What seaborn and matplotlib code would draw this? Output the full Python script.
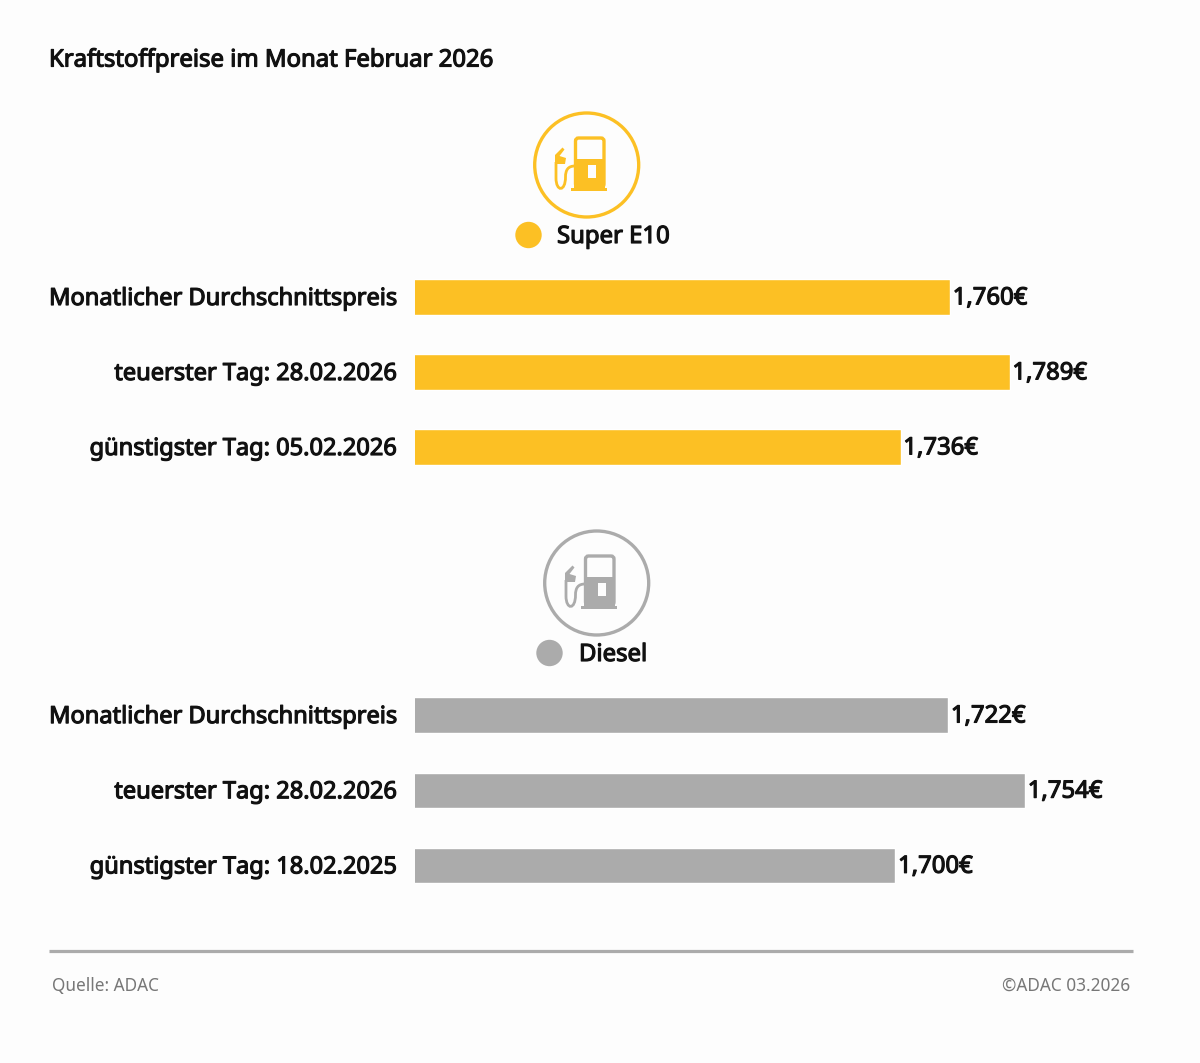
import matplotlib
matplotlib.use("Agg")
import matplotlib.patheffects as pe
import matplotlib.pyplot as plt
import pandas as pd
import seaborn as sns
from matplotlib.patches import Circle, Polygon, Rectangle, FancyBboxPatch
from matplotlib.path import Path
from matplotlib.patches import PathPatch
from matplotlib.transforms import ScaledTranslation

# data
labels_e10 = ["Monatlicher Durchschnittspreis", "teuerster Tag: 28.02.2026", "günstigster Tag: 05.02.2026"]
prices_e10 = [1.760, 1.789, 1.736]
labels_diesel = ["Monatlicher Durchschnittspreis", "teuerster Tag: 28.02.2026", "günstigster Tag: 18.02.2025"]
prices_diesel = [1.722, 1.754, 1.700]

YELLOW = "#FCC024"
GREY = "#ABABAB"
BG = "#FDFDFD"
DARK = "#111111"
W, H = 1200, 1063

sns.set_theme(style="white")
plt.rcParams["font.family"] = ["Noto Sans", "DejaVu Sans"]

fig = plt.figure(figsize=(W / 100, H / 100), dpi=100, facecolor=BG)

# the regular cut is the only one that resolves, so thicken it with a stroke
HEAVY = [pe.withStroke(linewidth=0.85, foreground=DARK)]


def make_axes(left, top, right, bottom):
    return fig.add_axes([left / W, 1 - bottom / H, (right - left) / W, (bottom - top) / H])


def bar_panel(ax, labels, prices, color, xmax):
    df = pd.DataFrame({"label": labels, "price": prices})
    sns.barplot(data=df, x="price", y="label", color=color, width=0.47, saturation=1, ax=ax)
    ax.set_xlim(1.5, xmax)
    ax.set_xlabel("")
    ax.set_ylabel("")
    ax.set_xticks([])
    ax.patch.set_alpha(0)
    sns.despine(ax=ax, left=True, bottom=True)
    ax.tick_params(axis="y", length=0, pad=13)
    nudge = ScaledTranslation(0, 1 / 100, fig.dpi_scale_trans)
    for t in ax.get_yticklabels():
        t.set_fontsize(17.0)
        t.set_color(DARK)
        t.set_path_effects(HEAVY)
        t.set_transform(t.get_transform() + nudge)
    vals = ax.bar_label(
        ax.containers[0],
        labels=[f"{p:.3f}€".replace(".", ",") for p in prices],
        padding=2,
        fontsize=17.2,
        color=DARK,
    )
    for t in vals:
        t.xyann = (2, -1)
        t.set_path_effects(HEAVY)
        t.set_clip_on(False)


# both panels start at 1.50 but use their own scale, as in the original
ax_e10 = make_axes(415, 259.5, 1133, 484.5)
bar_panel(ax_e10, labels_e10, prices_e10, YELLOW, 1.849)
ax_diesel = make_axes(415, 677.5, 1133, 903)
bar_panel(ax_diesel, labels_diesel, prices_diesel, GREY, 1.799)

# overlay in pixel coordinates for icons and text
deco = fig.add_axes([0, 0, 1, 1], zorder=-1)
deco.set_xlim(0, W)
deco.set_ylim(H, 0)
deco.axis("off")


def pump_icon(dx, dy, color):
    deco.add_patch(Circle((586.7 + dx, 165 + dy), 52, fc="none", ec=color, lw=2.4))
    # pump body with window
    deco.add_patch(FancyBboxPatch((575.5 + dx, 138 + dy), 28.5, 49, boxstyle="round,pad=0,rounding_size=3",
                                  fc=BG, ec=color, lw=2.4))
    deco.add_patch(Rectangle((574 + dx, 159 + dy), 31, 29, fc=color, ec="none"))
    deco.add_patch(Rectangle((588 + dx, 165 + dy), 8, 13, fc=BG, ec="none"))
    deco.add_patch(Rectangle((571 + dx, 187.5 + dy), 36, 3.5, fc=color, ec="none"))
    # hose
    hose = Path(
        [(575, 166), (568, 166), (565.5, 170), (565.5, 177), (565.5, 192), (556, 192), (556, 178), (556, 162)],
        [Path.MOVETO, Path.CURVE4, Path.CURVE4, Path.CURVE4, Path.CURVE4, Path.CURVE4, Path.CURVE4, Path.LINETO],
    )
    hose = Path([(x + dx, y + dy) for x, y in hose.vertices], hose.codes)
    deco.add_patch(PathPatch(hose, fc="none", ec=color, lw=2.0))
    # nozzle
    nozzle = [(555, 164), (555, 155), (562.5, 147.5), (564.5, 149.5), (559.5, 156), (566, 158), (565, 164)]
    deco.add_patch(Polygon([(x + dx, y + dy) for x, y in nozzle], fc=color, ec="none"))


pump_icon(0, 0, YELLOW)
pump_icon(10, 418, GREY)

deco.add_patch(Circle((528.5, 235), 13.2, fc=YELLOW, ec="none"))
deco.add_patch(Circle((549.5, 653), 13.2, fc=GREY, ec="none"))

deco.text(49, 60.5, "Kraftstoffpreise im Monat Februar 2026", fontsize=17.2, color=DARK, va="center", path_effects=HEAVY)
deco.text(557, 237, "Super E10", fontsize=17.2, color=DARK, va="center", path_effects=HEAVY)
deco.text(579, 655, "Diesel", fontsize=17.2, color=DARK, va="center", path_effects=HEAVY)

deco.plot([49, 1133], [951, 951], color=GREY, lw=2.3, solid_capstyle="butt")
deco.text(52, 985.5, "Quelle: ADAC", fontsize=12.4, color="#777777", va="center")
deco.text(1130, 985.5, "©ADAC 03.2026", fontsize=12.4, color="#777777", va="center", ha="right")

fig.savefig("out.png", dpi=100, facecolor=BG)
